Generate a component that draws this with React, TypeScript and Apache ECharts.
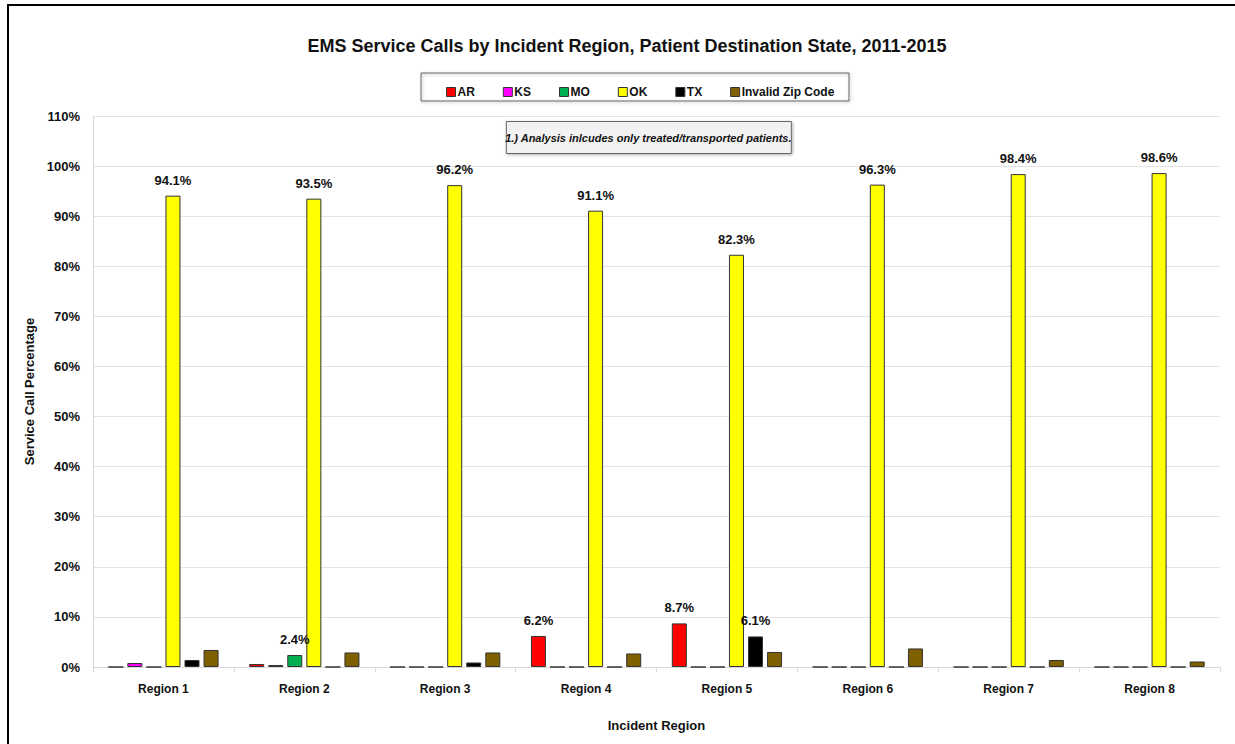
import React, { useEffect, useRef } from "react";
import * as echarts from "echarts";

const categories = ["Region 1", "Region 2", "Region 3", "Region 4", "Region 5", "Region 6", "Region 7", "Region 8"];
const seriesNames = ["AR", "KS", "MO", "OK", "TX", "Invalid Zip Code"];
const colors = ["#FF0000", "#FF00FF", "#00B050", "#FFFF00", "#000000", "#7F6000"];
const arValues = [0, 0.6, 0, 6.2, 8.7, 0, 0, 0];
const ksValues = [0.8, 0.4, 0, 0, 0, 0, 0, 0];
const moValues = [0, 2.4, 0, 0, 0, 0, 0, 0];
const okValues = [94.1, 93.5, 96.2, 91.1, 82.3, 96.3, 98.4, 98.6];
const txValues = [1.4, 0, 0.9, 0, 6.1, 0, 0, 0];
const invalidValues = [3.4, 2.9, 2.9, 2.7, 3.0, 3.7, 1.4, 1.1];
const labeledSeries = [true, true, true, true, true, false];
const labelThreshold = 2; // values at or above this get a data label
const yTicks = [0, 10, 20, 30, 40, 50, 60, 70, 80, 90, 100, 110];

const FONT = "'Liberation Sans Narrow', 'Arial Narrow', 'Liberation Sans', Arial, sans-serif";

export default function App() {
  const ref = useRef<HTMLDivElement>(null);
  useEffect(() => {
    document.body.style.margin = "0";
    const chart = echarts.init(ref.current!, null, { renderer: "svg" });
    const all = [arValues, ksValues, moValues, okValues, txValues, invalidValues];
    const series = all.map((vals, i) => ({
      name: seriesNames[i],
      type: "bar",
      barWidth: 15,
      barGap: "27%",
      itemStyle: { color: colors[i], borderColor: "#333", borderWidth: 1 },
      label: {
        show: labeledSeries[i],
        position: "top",
        distance: 9,
        fontFamily: FONT,
        fontWeight: "bold",
        fontSize: 13,
        color: "#111",
        formatter: (p: any) => (p.value >= labelThreshold ? p.value.toFixed(1) + "%" : ""),
      },
      data: vals,
    }));
    chart.setOption({
      animation: false,
      backgroundColor: "#fff",
      title: {
        text: "EMS Service Calls by Incident Region, Patient Destination State, 2011-2015",
        left: 622,
        textAlign: "center",
        top: 32,
        textStyle: { fontFamily: FONT, fontWeight: "bold", fontSize: 18, color: "#111" },
      },
      legend: {
        data: seriesNames,
        left: 441,
        top: 81,
        itemWidth: 9,
        itemHeight: 9,
        itemGap: 28,
        icon: "rect",
        textStyle: { fontFamily: FONT, fontWeight: "bold", fontSize: 12, color: "#111", padding: [0, 0, 0, -3] },
        itemStyle: { borderColor: "#333", borderWidth: 1 },
      },
      grid: { left: 93, right: 15, top: 116, bottom: 77 },
      xAxis: {
        type: "category",
        data: categories,
        name: "Incident Region",
        nameLocation: "middle",
        nameGap: 52,
        nameTextStyle: { fontFamily: FONT, fontWeight: "bold", fontSize: 13, color: "#111" },
        axisLine: { lineStyle: { color: "#d9d9d9" } },
        axisTick: { show: true, length: 5, lineStyle: { color: "#d9d9d9" } },
        axisLabel: { fontFamily: FONT, fontWeight: "bold", fontSize: 12, color: "#111", margin: 16 },
      },
      yAxis: {
        type: "value",
        min: 0,
        max: 110,
        interval: 10,
        name: "Service Call Percentage",
        nameLocation: "middle",
        nameGap: 57,
        nameTextStyle: { fontFamily: FONT, fontWeight: "bold", fontSize: 13, color: "#111" },
        axisLine: { show: true, lineStyle: { color: "#d9d9d9" } },
        axisTick: { show: false },
        splitLine: { lineStyle: { color: "#e3e3e3" } },
        axisLabel: {
          fontFamily: FONT,
          fontWeight: "bold",
          fontSize: 13,
          color: "#111",
          margin: 13,
          formatter: (v: number) => (yTicks.includes(v) ? v + "%" : ""),
        },
      },
      graphic: [
        {
          type: "rect",
          shape: { x: 8, y: 5, width: 1240, height: 760 },
          style: { fill: "none", stroke: "#000", lineWidth: 2 },
          silent: true,
        },
        {
          type: "rect",
          shape: { x: 421, y: 73, width: 428, height: 28 },
          style: { fill: "none", stroke: "#666", lineWidth: 1, shadowBlur: 3, shadowColor: "rgba(0,0,0,0.3)", shadowOffsetX: 1, shadowOffsetY: 1 },
          silent: true,
          z: -1,
        },
        {
          type: "group",
          left: 505,
          top: 121,
          children: [
            {
              type: "rect",
              shape: { x: 0, y: 0, width: 285, height: 32 },
              style: { fill: "#f2f2f2", stroke: "#666", lineWidth: 1, shadowBlur: 3, shadowColor: "rgba(0,0,0,0.3)", shadowOffsetX: 1, shadowOffsetY: 1 },
            },
            {
              type: "text",
              x: 142,
              y: 16,
              style: {
                text: "1.) Analysis inlcudes only treated/transported patients.",
                fontFamily: FONT,
                fontStyle: "italic",
                fontWeight: "bold",
                fontSize: 11,
                fill: "#111",
                align: "center",
                verticalAlign: "middle",
              },
            },
          ],
        },
      ],
      series,
    });
    return () => chart.dispose();
  }, []);
  return <div ref={ref} style={{ width: 1235, height: 744 }} />;
}
